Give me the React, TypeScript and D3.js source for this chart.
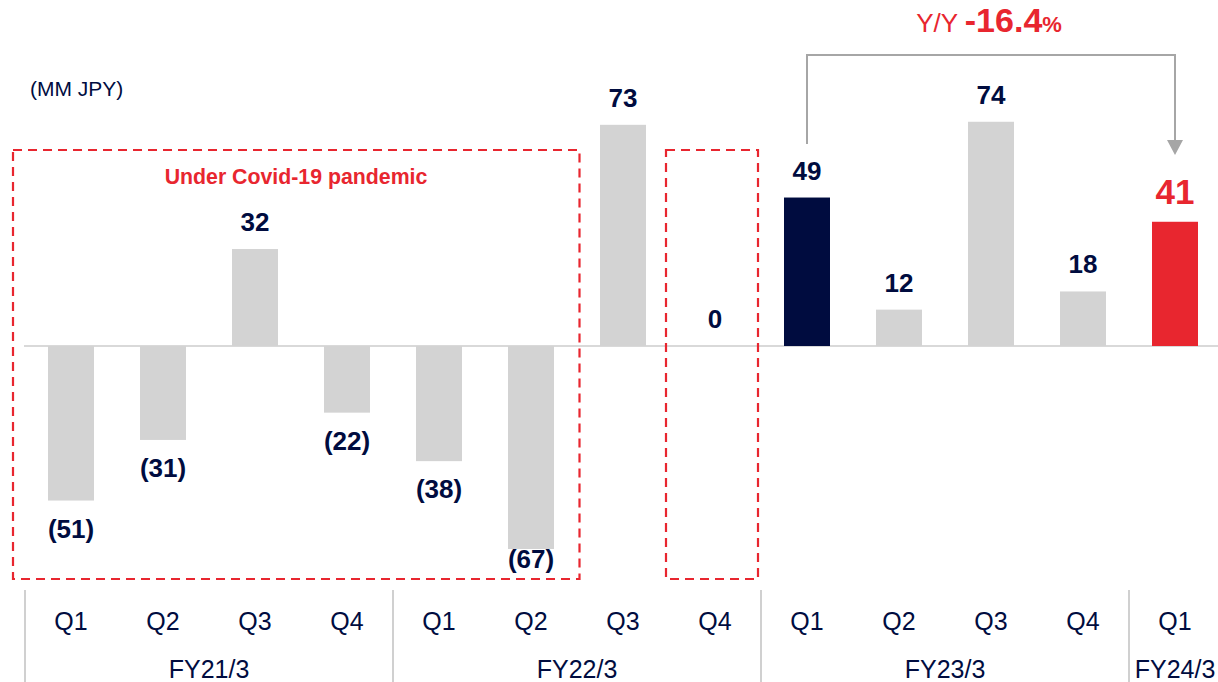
import React from "react";
import * as d3 from "d3";

const quarters = ["Q1", "Q2", "Q3", "Q4", "Q1", "Q2", "Q3", "Q4", "Q1", "Q2", "Q3", "Q4", "Q1"];
const values = [-51, -31, 32, -22, -38, -67, 73, 0, 49, 12, 74, 18, 41];
const fyNames = ["FY21/3", "FY22/3", "FY23/3", "FY24/3"];
const fyStart = [0, 4, 8, 12];
const fyCount = [4, 4, 4, 1];
const highlightPrev = 8;
const highlightCurr = 12;
const covidBoxes = [[0, 5], [7, 7]];
const yoyLabel = "Y/Y ";
const yoyValue = "-16.4";
const unitLabel = "(MM JPY)";
const covidLabel = "Under Covid-19 pandemic";

const W = 1218, H = 682;
const NAVY = "#000c3f";
const RED = "#e8262f";
const GRAY = "#d3d3d3";
const FONT = "'Liberation Sans', Arial, sans-serif";

function fmt(v: number) {
  return v < 0 ? `(${Math.abs(v)})` : `${v}`;
}

export default function App() {
  const idx = values.map((_, i) => i);
  const x = d3.scaleBand<number>().domain(idx).range([25, 25 + 13 * 92]).paddingInner(0.5).paddingOuter(0.25);
  const y = d3.scaleLinear().domain([-67, 74]).range([346 + 67 * 3.03, 346 - 74 * 3.03]);
  const bw = x.bandwidth();
  const step = x.step();
  const cx = (i: number) => (x(i) as number) + bw / 2;
  const y0 = y(0);

  const color = (i: number) => (i === highlightPrev ? NAVY : i === highlightCurr ? RED : GRAY);

  const arrowY = 155;
  const bracketTop = 55;
  const boxTop = 150, boxBottom = 579;

  return (
    <svg width={W} height={H} style={{ position: "absolute", left: 0, top: 0, background: "#fff" }} fontFamily={FONT}>
      <text x={30} y={96} fontSize={21} fill={NAVY}>{unitLabel}</text>

      {/* baseline */}
      <line x1={24} x2={W} y1={y0} y2={y0} stroke="#d9d9d9" strokeWidth={2} />

      {/* bars */}
      {values.map((v, i) => (
        <rect key={i} x={x(i)} width={bw} y={Math.min(y(v), y0)} height={Math.abs(y(v) - y0)} fill={color(i)} />
      ))}

      {/* value labels */}
      {values.map((v, i) => {
        const isCurr = i === highlightCurr;
        const ty = v >= 0 ? y(v) - 18 : Math.min(y(v) + 37, boxBottom - 11);
        return (
          <text key={i} x={cx(i)} y={ty} textAnchor="middle" fontWeight="bold" fontSize={isCurr ? 35 : 26} fill={isCurr ? RED : NAVY}>
            {fmt(v)}
          </text>
        );
      })}

      {/* covid boxes */}
      {covidBoxes.map(([a, b], k) => {
        const left = k === 0 ? 13 : cx(a) - 49;
        const right = k === 0 ? cx(b) + 48.5 : cx(b) + 43;
        return (
          <rect key={k} x={left} y={boxTop} width={right - left} height={boxBottom - boxTop} fill="none" stroke={RED} strokeWidth={2.2} strokeDasharray="9 6" />
        );
      })}
      <text x={296} y={184} textAnchor="middle" fontWeight="bold" fontSize={21.3} fill={RED}>{covidLabel}</text>

      {/* YoY bracket */}
      <path
        d={`M${cx(highlightPrev)},144 V${bracketTop} H${cx(highlightCurr)} V${arrowY - 14}`}
        fill="none" stroke="#a6a6a6" strokeWidth={2}
      />
      <path d={`M${cx(highlightCurr) - 8},${arrowY - 15} L${cx(highlightCurr) + 8},${arrowY - 15} L${cx(highlightCurr)},${arrowY} Z`} fill="#a6a6a6" />
      <text x={989} y={32} textAnchor="middle" fill={RED}>
        <tspan fontSize={26}>{yoyLabel}</tspan>
        <tspan fontSize={34} fontWeight="bold">{yoyValue}</tspan>
        <tspan fontSize={22} fontWeight="bold">%</tspan>
      </text>

      {/* category axis */}
      {quarters.map((q, i) => (
        <text key={i} x={cx(i)} y={630} textAnchor="middle" fontSize={25} fill={NAVY}>{q}</text>
      ))}
      {fyNames.map((n, k) => {
        const a = fyStart[k], c = fyCount[k];
        const mid = (cx(a) + cx(a + c - 1)) / 2;
        return <text key={n} x={mid} y={678} textAnchor="middle" fontSize={25} fill={NAVY}>{n}</text>;
      })}
      {fyStart.map((s, k) => {
        const sx = (x(s) as number) - (step - bw) / 2;
        return <line key={k} x1={sx} x2={sx} y1={590} y2={H} stroke="#d0d0d0" strokeWidth={2} />;
      })}
    </svg>
  );
}
